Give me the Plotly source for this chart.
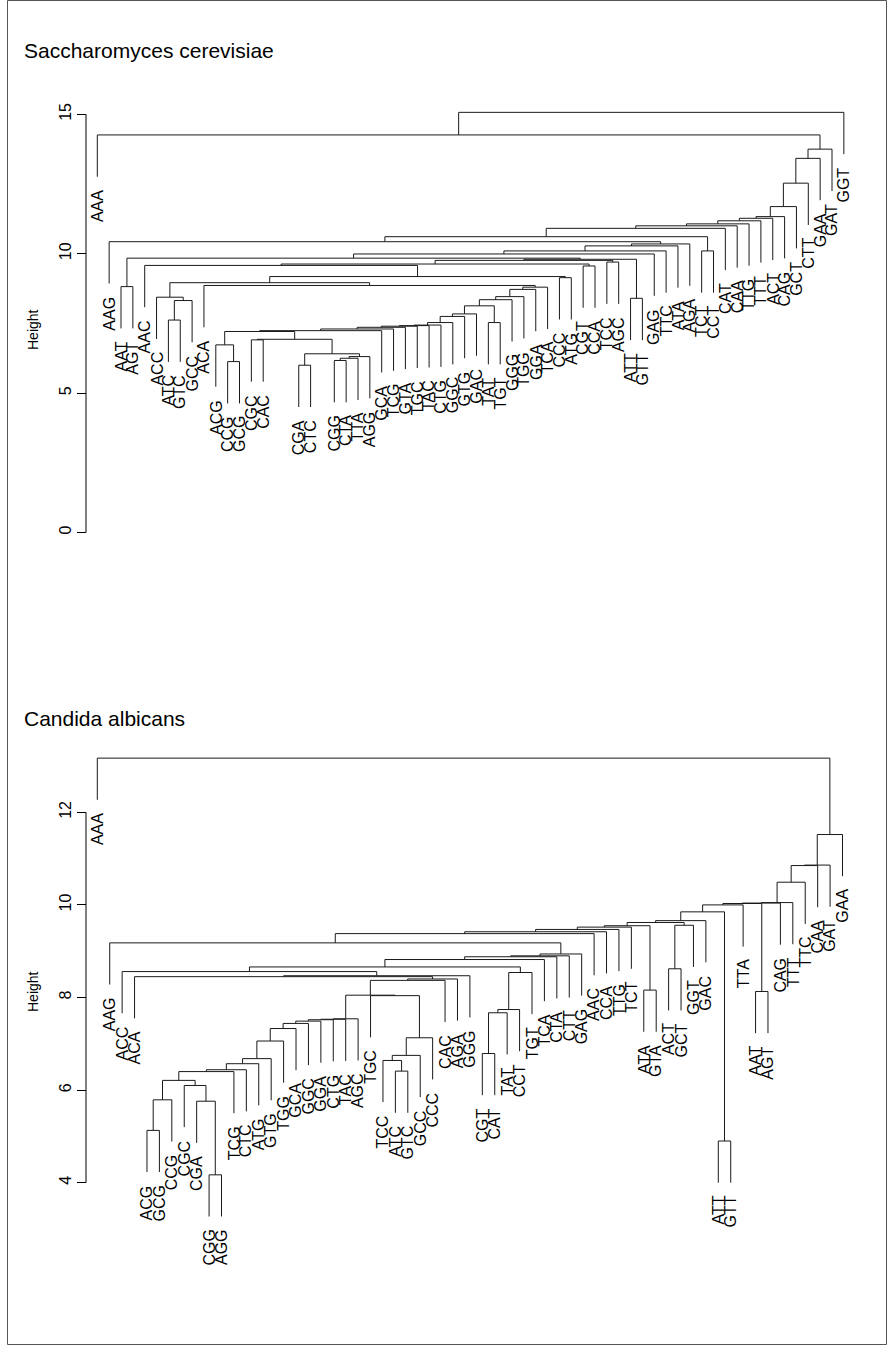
import plotly.graph_objects as go

W, H = 894, 1352

# ---------------- Saccharomyces cerevisiae ----------------
sc_labels = ["AAA", "AAG", "AAT", "AGT", "AAC", "ACC", "ATC", "GTC", "GCC", "ACA",
             "ACG", "CCG", "GCG", "CGC", "CAC", "CGA", "CTC", "CGG", "CTA", "TTA",
             "AGG", "GCA", "TCG", "GTA", "TGC", "TAC", "CTG", "GGC", "GTG", "GAC",
             "TAT", "TGT", "GGG", "TGG", "GGA", "TCA", "CCC", "ATG", "CGT", "CCA",
             "TCC", "AGC", "ATT", "GTT", "GAG", "TTC", "ATA", "AGA", "TCT", "CCT",
             "CAT", "CAA", "TTG", "TTT", "ACT", "CAG", "GCT", "CTT", "GAA", "GAT", "GGT"]
# leaf positions (three positions are left empty)
sc_slots = list(range(0, 15)) + [17, 18] + list(range(20, 64))

# merges: leaf label or 1-based merge number
sc_left = ["ATC", 1, "ACC", "AAT", "CCG", "ACG", "CGC", "CGA", "CGG", 9,
           10, 8, 7, 6, 14, 15, 16, 17, 18, 19,
           20, 21, 22, "TAT", 23, 25, 26, 27, 28, "ACA",
           3, "CCC", 31, "AAC", "CGT", 34, "TCC", 36, "ATT", 38,
           4, 41, 42, 43, 44, "AAG", "TCT", 46, 48, 49,
           50, 51, 52, 53, 54, 55, 56, 57, "AAA", 59]
sc_right = ["GTC", "GCC", 2, "AGT", "GCG", 5, "CAC", "CTC", "CTA", "TTA",
            "AGG", 11, 12, 13, "GCA", "TCG", "GTA", "TGC", "TAC", "CTG",
            "GGC", "GTG", "GAC", "TGT", 24, "GGG", "TGG", "GGA", "TCA", 29,
            30, "ATG", 32, 33, "CCA", 35, "AGC", 37, "GTT", 39,
            40, "GAG", "TTC", "ATA", "AGA", 45, "CCT", 47, "CAT", "CAA",
            "TTG", "TTT", "ACT", "CAG", "GCT", "CTT", "GAA", "GAT", 58, "GGT"]
sc_height = [7.62, 8.32, 8.44, 8.82, 6.13, 6.73, 6.91, 6.00, 6.17, 6.25,
             6.31, 6.41, 6.93, 7.21, 7.24, 7.30, 7.36, 7.40, 7.42, 7.44,
             7.53, 7.75, 7.84, 7.53, 8.13, 8.35, 8.46, 8.72, 8.80, 8.86,
             8.96, 9.14, 9.18, 9.58, 9.56, 9.63, 9.70, 9.76, 8.40, 9.80,
             9.84, 9.99, 10.10, 10.28, 10.35, 10.43, 10.10, 10.61, 10.91, 11.00,
             11.07, 11.18, 11.27, 11.33, 11.69, 12.53, 13.42, 13.75, 14.26, 15.07]
sc_hang = 1.5
sc_ticks = [0, 5, 10, 15]

# ---------------- Candida albicans ----------------
ca_labels = ["AAA", "AAG", "ACC", "ACA", "ACG", "GCG", "CCG", "CGC", "CGA", "CGG",
             "AGG", "TCG", "CTC", "ATG", "GTG", "TGG", "GCA", "GGC", "GGA", "CTG",
             "TAC", "AGC", "TGC", "TCC", "ATC", "GTC", "GCC", "CCC", "CAC", "AGA",
             "GGG", "CGT", "CAT", "TAT", "CCT", "TGT", "TCA", "CTA", "CTT", "GAG",
             "AAC", "CCA", "TTG", "TCT", "ATA", "GTA", "ACT", "GCT", "GGT", "GAC",
             "ATT", "GTT", "TTA", "AAT", "AGT", "CAG", "TTT", "TTC", "CAA", "GAT", "GAA"]
ca_slots = list(range(61))

ca_left = ["ACG", 1, "CGG", "CGA", "CGC", 2, 6, 7, 8, 9,
           10, 11, 12, 13, 14, 15, 16, "ATC", "TCC", 19,
           20, "TGC", 17, 23, 24, "ACA", 26, "ACC", "CGT", 29,
           30, 31, 28, 33, 34, 35, 36, "AAG", 38, 39,
           40, 41, "ATA", 42, "ACT", 45, 44, 47, "ATT", 48,
           50, "AAT", 51, 53, 54, 55, 56, 57, 58, "AAA"]
ca_right = ["GCG", "CCG", "AGG", 3, 4, 5, "TCG", "CTC", "ATG", "GTG",
            "TGG", "GCA", "GGC", "GGA", "CTG", "TAC", "AGC", "GTC", 18, "GCC",
            "CCC", 21, 22, "CAC", "AGA", 25, "GGG", 27, "CAT", "TAT",
            "CCT", "TGT", 32, "TCA", "CTA", "CTT", "GAG", 37, "AAC", "CCA",
            "TTG", "TCT", "GTA", 43, "GCT", "GGT", 46, "GAC", "GTT", 49,
            "TTA", "AGT", 52, "CAG", "TTT", "TTC", "CAA", "GAT", "GAA", 59]
ca_height = [5.13, 5.79, 4.17, 5.76, 6.10, 6.21, 6.40, 6.44, 6.57, 6.68,
             7.06, 7.33, 7.44, 7.49, 7.52, 7.53, 7.54, 6.41, 6.64, 6.75,
             7.13, 8.04, 8.05, 8.37, 8.40, 8.45, 8.47, 8.56, 6.79, 7.67,
             7.74, 8.54, 8.66, 8.82, 8.88, 8.90, 8.94, 9.18, 9.38, 9.42,
             9.47, 9.52, 8.16, 9.55, 8.62, 9.56, 9.62, 9.66, 4.90, 9.85,
             10.00, 8.13, 10.03, 10.04, 10.05, 10.49, 10.85, 10.86, 11.52, 13.17]
ca_hang = 0.9
ca_ticks = [4, 6, 8, 10, 12]

FONT = "Liberation Sans, Arial, Helvetica, sans-serif"


def dendro_segments(labels, slots, left, right, height, hang):
    """Return line coordinates (R plot.hclust style) and leaf label anchors."""
    pos = dict(zip(labels, slots))
    centre, xs, ys, leaf_pts = {}, [], [], []
    for k, (a, b, h) in enumerate(zip(left, right, height), start=1):
        ends = []
        for c in (a, b):
            if isinstance(c, str):
                x0, y0 = pos[c], h - hang
                leaf_pts.append((c, x0, y0))
            else:
                x0, y0 = centre[c]
            ends.append((x0, y0))
        (xl, yl), (xr, yr) = ends
        xs += [xl, xl, xr, xr, None]
        ys += [yl, h, h, yr, None]
        centre[k] = ((xl + xr) / 2.0, h)
    return xs, ys, leaf_pts


fig = go.Figure()
annotations = []

panels = [
    ("x", "y", sc_labels, sc_slots, sc_left, sc_right, sc_height, sc_hang),
    ("x2", "y2", ca_labels, ca_slots, ca_left, ca_right, ca_height, ca_hang),
]

for xr, yr, labels, slots, left, right, height, hang in panels:
    xs, ys, leaves = dendro_segments(labels, slots, left, right, height, hang)
    fig.add_trace(go.Scatter(x=xs, y=ys, mode="lines", xaxis=xr, yaxis=yr,
                             line=dict(color="#1a1a1a", width=1),
                             hoverinfo="skip", showlegend=False))
    for name, lx, ly in leaves:
        annotations.append(dict(x=lx, y=ly, xref=xr, yref=yr, text=name,
                                showarrow=False, textangle=-90,
                                xanchor="center", yanchor="top", yshift=-11,
                                font=dict(family=FONT, size=16, color="black")))

# titles and axis titles
annotations += [
    dict(x=22 / W, y=1 - 50 / H, xref="paper", yref="paper", text="Saccharomyces cerevisiae",
         showarrow=False, xanchor="left", yanchor="middle",
         font=dict(family=FONT, size=21, color="black")),
    dict(x=22 / W, y=1 - 718 / H, xref="paper", yref="paper", text="Candida albicans",
         showarrow=False, xanchor="left", yanchor="middle",
         font=dict(family=FONT, size=21, color="black")),
    dict(x=33 / W, y=1 - 330 / H, xref="paper", yref="paper", text="Height",
         showarrow=False, textangle=-90, xanchor="center", yanchor="middle",
         font=dict(family=FONT, size=14, color="black")),
    dict(x=33 / W, y=1 - 992 / H, xref="paper", yref="paper", text="Height",
         showarrow=False, textangle=-90, xanchor="center", yanchor="middle",
         font=dict(family=FONT, size=14, color="black")),
]

AXIS_X = 86 / W
yaxis_common = dict(showgrid=False, zeroline=False, showline=False, ticks="outside",
                    ticklen=9, tickwidth=1, tickcolor="black", tickangle=-90,
                    tickfont=dict(family=FONT, size=16, color="black"),
                    anchor="free", position=AXIS_X, fixedrange=True)
xaxis_common = dict(visible=False, fixedrange=True)

# pixel scale of each panel's height axis
top_ppu, top_ref = 27.88, 114.3
bot_ppu, bot_ref = 46.3, 812.3

fig.update_layout(
    width=W, height=H,
    margin=dict(l=0, r=0, t=0, b=0),
    paper_bgcolor="white", plot_bgcolor="white",
    xaxis=dict(domain=[0, 1], range=[-97.3 / 11.85, (W - 97.3) / 11.85], **xaxis_common),
    yaxis=dict(domain=[0.5, 1],
               range=[15 - (H / 2 - top_ref) / top_ppu, 15 + top_ref / top_ppu],
               tickvals=sc_ticks, **yaxis_common),
    xaxis2=dict(domain=[0, 1], range=[-97.3 / 12.42, (W - 97.3) / 12.42],
                anchor="y2", **xaxis_common),
    yaxis2=dict(domain=[0, 0.5],
                range=[12 - (H - bot_ref) / bot_ppu, 12 + (bot_ref - H / 2) / bot_ppu],
                tickvals=ca_ticks, **yaxis_common),
    annotations=annotations,
    shapes=[
        dict(type="line", xref="paper", yref="y", x0=AXIS_X, x1=AXIS_X,
             y0=min(sc_ticks), y1=max(sc_ticks), line=dict(color="black", width=1)),
        dict(type="line", xref="paper", yref="y2", x0=AXIS_X, x1=AXIS_X,
             y0=min(ca_ticks), y1=max(ca_ticks), line=dict(color="black", width=1)),
        dict(type="rect", xref="paper", yref="paper", x0=7.5 / W, x1=1 - 7.5 / W,
             y0=7.5 / H, y1=1 - 0.5 / H, line=dict(color="#555555", width=1)),
    ],
)

fig.write_html("out.html")
